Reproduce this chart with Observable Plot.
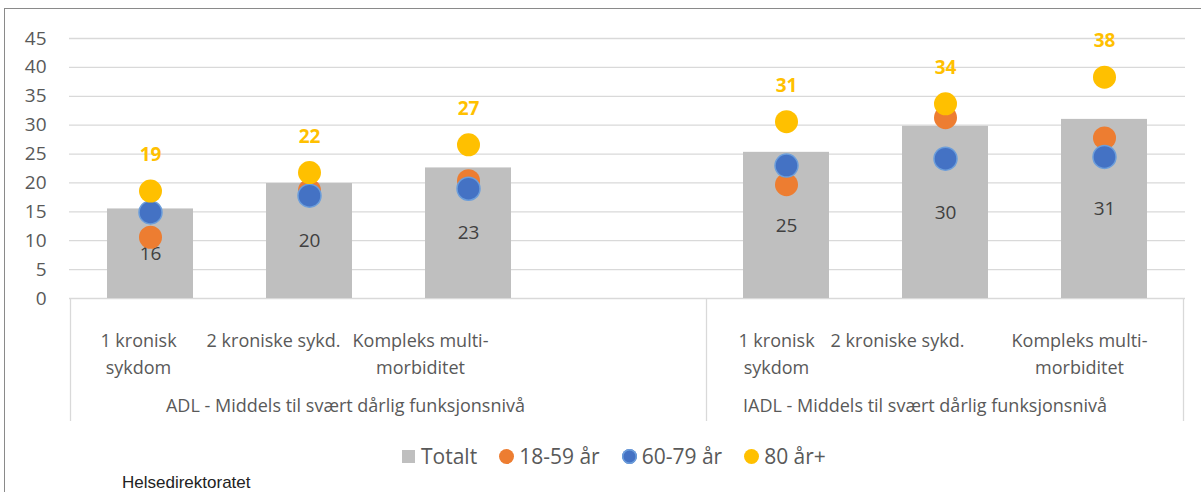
<!DOCTYPE html>
<html>
<head>
<meta charset="utf-8">
<script src="https://cdn.jsdelivr.net/npm/d3@7"></script>
<script src="https://cdn.jsdelivr.net/npm/@observablehq/plot@0.6"></script>
<style>
  html, body { margin: 0; padding: 0; background: #fff; overflow: hidden; }
  #wrap { position: relative; width: 1201px; height: 492px; overflow: hidden; font-family: "Open Sans", sans-serif; }
  #chart { position: absolute; left: 0; top: 0; }
  #frame { position: absolute; left: 4px; top: 8px; width: 1300px; height: 600px;
           border-left: 1.5px solid #8a8a8a; border-top: 1.5px solid #8a8a8a; pointer-events: none; }
  #legend { position: absolute; left: 402px; top: 443px; height: 26px; display: flex; align-items: center;
            font-size: 21px; line-height: 26px; color: #595959; }
  #legend .item { display: flex; align-items: center; margin-right: 22px; }
  #legend .sw { display: inline-block; margin-right: 6px; }
  #legend .sq { width: 13px; height: 13px; }
  #legend .ci { width: 15px; height: 15px; border-radius: 50%; margin-right: 5px; }
  #source { position: absolute; left: 122px; top: 475px; font-family: "Liberation Sans", Arial, sans-serif;
            font-size: 17px; line-height: 16px; color: #222; }
</style>
</head>
<body>
<div id="wrap">
  <div id="chart"></div>
  <div id="legend"></div>
  <div id="source">Helsedirektoratet</div>
  <div id="frame"></div>
</div>
<script>
// ---- data ----
const groupNames = ["ADL - Middels til svært dårlig funksjonsnivå", "IADL - Middels til svært dårlig funksjonsnivå"];
const categoryLabels = ["1 kronisk\nsykdom", "2 kroniske sykd.", "Kompleks multi-\nmorbiditet", "",
                        "1 kronisk\nsykdom", "2 kroniske sykd.", "Kompleks multi-\nmorbiditet"];
const categoryGroup = [0, 0, 0, 0, 1, 1, 1];
const totalt   = [15.5, 19.9, 22.6, null, 25.3, 29.8, 31.0];
const aar18_59 = [10.6, 18.7, 20.4, null, 19.7, 31.3, 27.8];
const aar60_79 = [14.9, 17.8, 19.0, null, 23.0, 24.2, 24.5];
const aar80    = [18.6, 21.8, 26.6, null, 30.6, 33.7, 38.3];
const yTicks = [0, 5, 10, 15, 20, 25, 30, 35, 40, 45];
const seriesNames = ["Totalt", "18-59 år", "60-79 år", "80 år+"];

// ---- styles ----
const colors = { total: "#BFBFBF", a: "#ED7D31", b: "#4472C4", c: "#FFC000" };
const labelNudge = [-12, -36, -48, 0, -10, -48, -25];
const groupNudge = [-43, -20];
const fmt = d3.format(".0f");

const rows = categoryLabels.map((label, i) => ({
  slot: i, label, group: categoryGroup[i],
  totalt: totalt[i], a: aar18_59[i], b: aar60_79[i], c: aar80[i]
}));
const valid = rows.filter(d => d.totalt != null);

const chart = Plot.plot({
  width: 1201, height: 430,
  marginLeft: 69, marginRight: 16, marginTop: 38, marginBottom: 132,
  style: { fontFamily: "'Open Sans', sans-serif", fontSize: "19px", color: "#595959", background: "transparent" },
  x: { type: "band", domain: rows.map(d => d.slot), paddingInner: 0.46, paddingOuter: 0.23, axis: null },
  y: { domain: [0, 45], ticks: yTicks, tickSize: 0, tickPadding: 23, label: null },
  marks: [
    Plot.ruleY(yTicks, { stroke: "#D9D9D9", strokeWidth: 1.3 }),
    Plot.barY(valid, { x: "slot", y: "totalt", fill: colors.total }),
    Plot.text(valid, { x: "slot", y: d => d.totalt / 2, text: d => fmt(d.totalt), fill: "#404040", fontSize: 19 }),
    Plot.dot(valid, { x: "slot", y: "a", r: 11.5, fill: colors.a }),
    Plot.dot(valid, { x: "slot", y: "b", r: 11.5, fill: colors.b, stroke: "#6C9EDB", strokeWidth: 1.5 }),
    Plot.dot(valid, { x: "slot", y: "c", r: 11.5, fill: colors.c }),
    Plot.text(valid, { x: "slot", y: "c", text: d => fmt(d.c), dy: -36, fill: colors.c, fontWeight: "bold", fontSize: 19 }),
    ...rows.filter(d => d.label).map(d =>
      Plot.text([d], { x: "slot", text: "label", frameAnchor: "bottom", lineAnchor: "top",
                       lineHeight: 1.5, dy: 29.2, dx: labelNudge[d.slot], fill: "#595959", fontSize: 18 }))
  ]
});

// category-axis box and group labels, placed with the plot's own x and y scales
const xs = chart.scale("x");
const ys = chart.scale("y");
const center = i => xs.apply(i) + xs.bandwidth / 2;
const y0 = ys.apply(0);
const svg = d3.select(chart);
const g = svg.append("g");
const boxBottom = y0 + 123;
groupNames.forEach((name, gi) => {
  const slots = rows.filter(d => d.group === gi).map(d => d.slot);
  const left = center(d3.min(slots)) - xs.step / 2;
  const right = center(d3.max(slots)) + xs.step / 2;
  g.append("line").attr("x1", left).attr("x2", left).attr("y1", y0).attr("y2", boxBottom)
    .attr("stroke", "#D9D9D9").attr("stroke-width", 1.3);
  if (gi === groupNames.length - 1) {
    g.append("line").attr("x1", right).attr("x2", right).attr("y1", y0).attr("y2", boxBottom)
      .attr("stroke", "#D9D9D9").attr("stroke-width", 1.3);
  }
  g.append("text").attr("x", (left + right) / 2 + groupNudge[gi]).attr("y", y0 + 113.7)
    .attr("text-anchor", "middle").attr("fill", "#595959")
    .attr("font-family", "'Open Sans', sans-serif").attr("font-size", 18).text(name);
});

document.getElementById("chart").appendChild(chart);

// legend
const legendSwatches = [
  { cls: "sq", color: colors.total },
  { cls: "ci", color: colors.a },
  { cls: "ci", color: colors.b, border: "#6C9EDB" },
  { cls: "ci", color: colors.c }
];
const legend = document.getElementById("legend");
seriesNames.forEach((name, i) => {
  const s = legendSwatches[i];
  const item = document.createElement("span");
  item.className = "item";
  const sw = document.createElement("span");
  sw.className = "sw " + s.cls;
  sw.style.background = s.color;
  if (s.border) { sw.style.boxShadow = "inset 0 0 0 1.5px " + s.border; }
  const t = document.createElement("span");
  t.textContent = name;
  item.appendChild(sw); item.appendChild(t);
  legend.appendChild(item);
});
</script>
</body>
</html>
